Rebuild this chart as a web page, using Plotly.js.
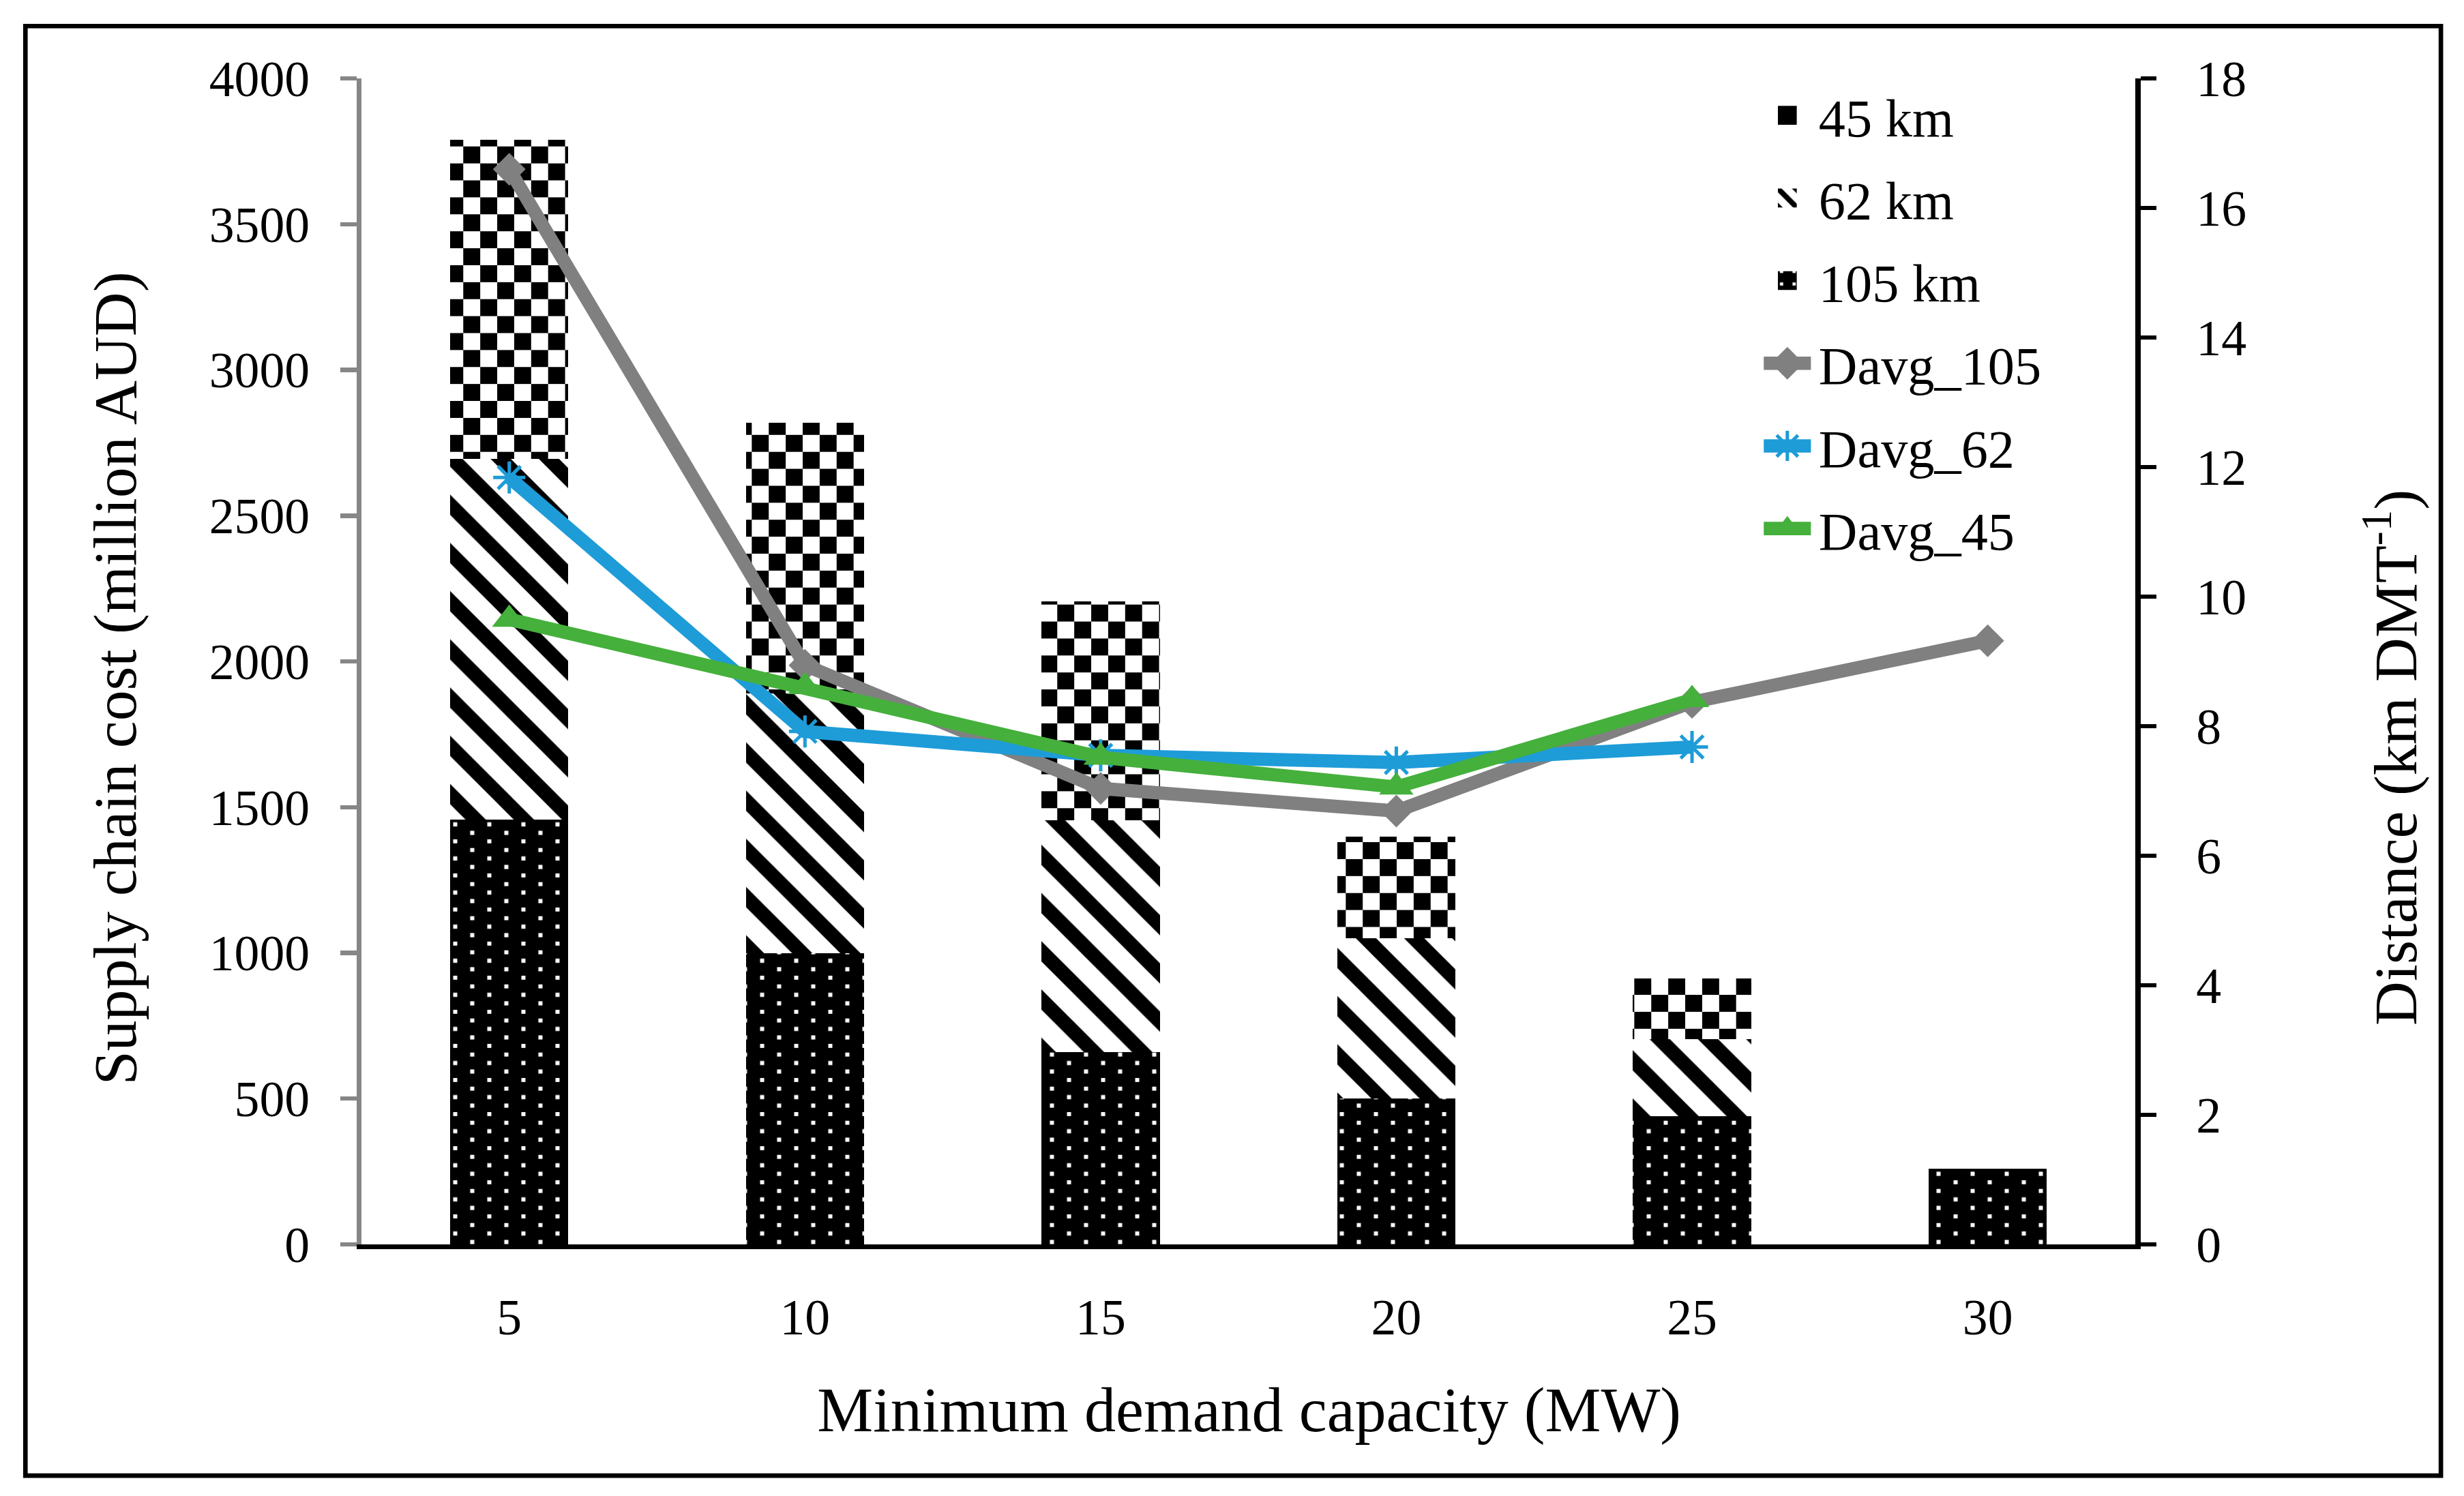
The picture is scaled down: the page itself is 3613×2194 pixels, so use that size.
<!DOCTYPE html>
<html>
<head>
<meta charset="utf-8">
<script src="https://cdn.plot.ly/plotly-3.0.1.min.js"></script>
<style>
  html, body { margin: 0; padding: 0; background: #ffffff; overflow: hidden; }
  #wrap { width: 1568px; height: 952px; }
</style>
</head>
<body>
<div id="wrap"><div id="chart" style="width:1568px;height:952px;"></div></div>
<script>
// ---- data ----
const categories = ['5', '10', '15', '20', '25', '30'];
const cost105 = [1457, 1000, 660, 500, 440, 260];
const cost62  = [1238, 890, 795, 550, 265, 0];
const cost45  = [1095, 930, 750, 350, 208, 0];
const davg105 = [16.6, 8.94, 7.04, 6.69, 8.37, 9.32];
const davg62  = [11.84, 7.92, 7.55, 7.44, 7.68];
const davg45  = [9.65, 8.61, 7.52, 7.06, 8.41];
const leftTicks = [0, 500, 1000, 1500, 2000, 2500, 3000, 3500, 4000];
const rightTicks = [0, 2, 4, 6, 8, 10, 12, 14, 16, 18];

const SCALE = 3613 / 1568;
document.getElementById('wrap').style.zoom = String(SCALE);

let hasPath = false;
try {
  const s = Plotly.PlotSchema.get();
  hasPath = !!(s.traces.bar.attributes.marker.pattern.path);
} catch (e) { hasPath = false; }

const FONT = 'Liberation Serif, Times New Roman, serif';

const checkerPat = hasPath
  ? { path: 'M0,0H10.8V10.8H0ZM10.8,10.8H21.6V21.6H10.8Z', size: 21.6, fgcolor: '#000000', bgcolor: '#ffffff', fgopacity: 1, solidity: 0.5 }
  : { shape: 'x', size: 15, solidity: 0.45, fgcolor: '#000000', bgcolor: '#ffffff', fgopacity: 1 };
const dotPat = hasPath
  ? { path: 'M4.1,1.4h2.6v2.6h-2.6ZM15.0,6.8h2.6v2.6h-2.6ZM4.1,12.3h2.6v2.6h-2.6ZM15.0,17.7h2.6v2.6h-2.6Z', size: 21.7, fgcolor: '#ffffff', bgcolor: '#000000', fgopacity: 1, solidity: 0.1 }
  : { shape: '.', size: 10.8, solidity: 0.05, fgcolor: '#ffffff', bgcolor: '#000000', fgopacity: 1 };
const diagPat = { shape: '\\', size: 21.7, solidity: 0.42, fgcolor: '#000000', bgcolor: '#ffffff', fgopacity: 1 };

const LW = 8.5;
const traces = [
  { type: 'bar', name: '105 km', x: categories, y: cost105, legendrank: 3, legendgroup: 'g3',
    marker: { color: '#000000', pattern: dotPat, line: { width: 0 } }, hoverinfo: 'skip' },
  { type: 'bar', name: '62 km', x: categories, y: cost62, legendrank: 2, legendgroup: 'g2',
    marker: { color: '#000000', pattern: diagPat, line: { width: 0 } }, hoverinfo: 'skip' },
  { type: 'bar', name: '45 km', x: categories, y: cost45, legendrank: 1, legendgroup: 'g1',
    marker: { color: '#000000', pattern: checkerPat, line: { width: 0 } }, hoverinfo: 'skip' },
  { type: 'scatter', mode: 'lines+markers', name: 'Davg_105', x: categories, y: davg105, yaxis: 'y2',
    legendrank: 4, legendgroup: 'g4',
    line: { color: '#808080', width: LW }, marker: { symbol: 'diamond', size: 16, color: '#808080' } },
  { type: 'scatter', mode: 'lines+markers', name: 'Davg_62', x: categories.slice(0, 5), y: davg62, yaxis: 'y2',
    legendrank: 5, legendgroup: 'g5',
    line: { color: '#1E9CD8', width: LW },
    marker: { symbol: 'asterisk-open', size: 17, color: '#1E9CD8', line: { color: '#1E9CD8', width: 2.2 } } },
  { type: 'scatter', mode: 'lines+markers', name: 'Davg_45', x: categories.slice(0, 5), y: davg45, yaxis: 'y2',
    legendrank: 6, legendgroup: 'g6',
    line: { color: '#45B03C', width: LW }, marker: { symbol: 'triangle-up', size: 19, color: '#45B03C' } }
];

const layout = {
  width: 1568, height: 952,
  paper_bgcolor: '#ffffff', plot_bgcolor: '#ffffff',
  margin: { l: 229.6, r: 208.7, t: 49.9, b: 160.2, pad: 0 },
  barmode: 'stack', bargap: 0.6,
  font: { family: FONT, color: '#000000', size: 32 },
  showlegend: true,
  legend: { x: 0.786, y: 1.007, xanchor: 'left', yanchor: 'top', bgcolor: 'rgba(0,0,0,0)',
            font: { family: FONT, size: 34, color: '#000000' }, traceorder: 'grouped', tracegroupgap: 5.4 },
  xaxis: { type: 'category', categoryorder: 'array', categoryarray: categories, range: [-0.5, 5.5],
           showline: true, linecolor: '#000000', linewidth: 3, ticks: '', showgrid: false, zeroline: false,
           tickfont: { family: FONT, size: 32, color: '#000000' }, ticklabelstandoff: 16, fixedrange: true },
  yaxis: { range: [0, 4000], tickvals: leftTicks, ticktext: leftTicks.map(String),
           showline: true, linecolor: '#868686', linewidth: 2.9, ticks: 'outside', ticklen: 10.6,
           tickwidth: 2.8, tickcolor: '#868686', showgrid: false, zeroline: false,
           tickfont: { family: FONT, size: 32, color: '#000000' }, ticklabelstandoff: 13, fixedrange: true },
  yaxis2: { range: [0, 18], tickvals: rightTicks, ticktext: rightTicks.map(String), overlaying: 'y', side: 'right',
            showline: true, linecolor: '#000000', linewidth: 3.2, ticks: 'outside', ticklen: 10,
            tickwidth: 2.8, tickcolor: '#000000', showgrid: false, zeroline: false,
            tickfont: { family: FONT, size: 32, color: '#000000' }, ticklabelstandoff: 19, fixedrange: true },
  shapes: [
    { type: 'rect', xref: 'paper', yref: 'paper', x0: -0.1894, x1: 1.1721, y0: -0.1984, y1: 1.045,
      line: { color: '#000000', width: 2.9 }, fillcolor: 'rgba(0,0,0,0)', layer: 'above' }
  ],
  annotations: [
    { text: 'Minimum demand capacity (MW)', xref: 'paper', yref: 'paper', x: 0.5, y: -0.1418,
      xanchor: 'center', yanchor: 'middle', showarrow: false, font: { family: FONT, size: 40, color: '#000000' } },
    { text: 'Supply chain cost (million AUD)', xref: 'paper', yref: 'paper', x: -0.1386, y: 0.485,
      xanchor: 'center', yanchor: 'middle', textangle: -90, showarrow: false,
      font: { family: FONT, size: 39, color: '#000000' } },
    { text: 'Distance (km DMT<sup>-1</sup>)', xref: 'paper', yref: 'paper', x: 1.144, y: 0.4176,
      xanchor: 'center', yanchor: 'middle', textangle: -90, showarrow: false,
      font: { family: FONT, size: 39, color: '#000000' } }
  ]
};

Plotly.newPlot('chart', traces, layout, { staticPlot: true, displayModeBar: false });
</script>
</body>
</html>
